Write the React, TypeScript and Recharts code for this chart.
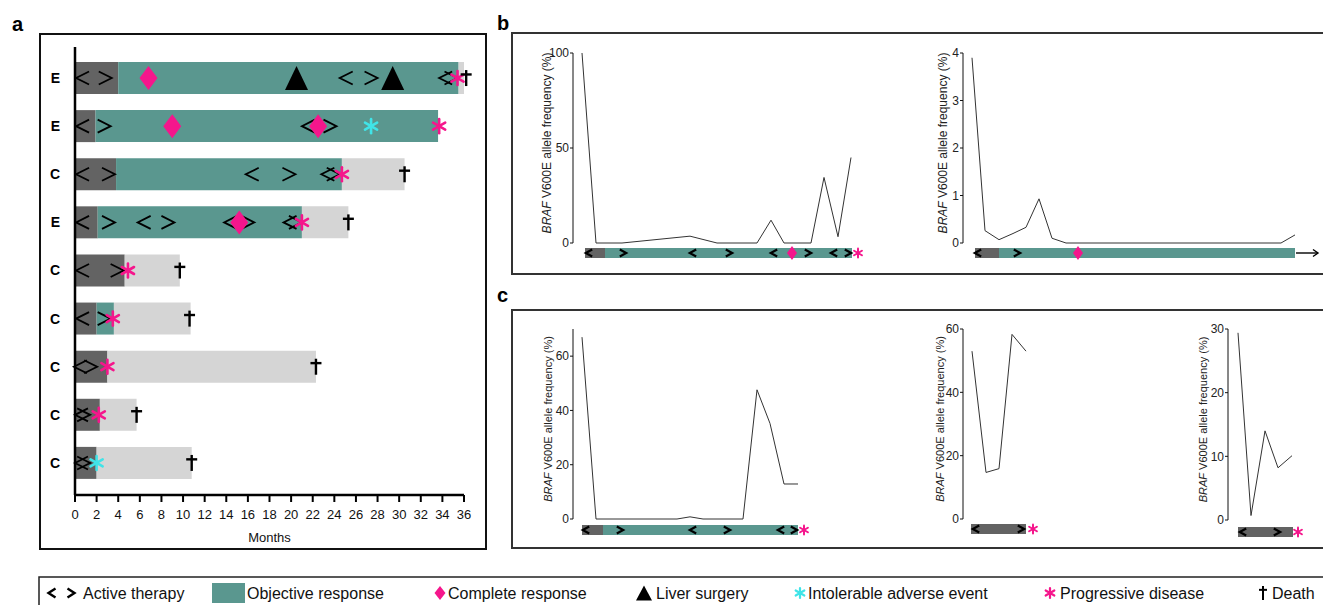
import React from "react";
import { BarChart, Bar, ComposedChart, LineChart, Line, XAxis, YAxis, ReferenceDot } from "recharts";

const FONT = "'Liberation Sans', Arial, Helvetica, sans-serif";
const TEAL = "#5a978f";
const DARK = "#636363";
const LIGHT = "#d5d5d5";
const PINK = "#f5168c";
const CYAN = "#40e4e8";

// ---- panel a: swimmer plot (months)
const patients = ["P1", "P2", "P3", "P4", "P5", "P6", "P7", "P8", "P9"];
const arms = ["E", "E", "C", "E", "C", "C", "C", "C", "C"];
const therapyEnd = [4.0, 1.9, 3.8, 2.1, 4.6, 2.0, 3.0, 2.3, 2.0];
const responseEnd = [35.5, 33.6, 24.7, 21.0, 4.6, 3.6, 3.0, 2.3, 2.0];
const followEnd = [36.0, 33.6, 30.5, 25.3, 9.7, 10.7, 22.3, 5.7, 10.8];
const monthTicks = [0, 2, 4, 6, 8, 10, 12, 14, 16, 18, 20, 22, 24, 26, 28, 30, 32, 34, 36];

type Ev = [string, number];
const therapyStarts: Ev[] = [
  ["P1", 0.7], ["P1", 25.1], ["P1", 34.3], ["P2", 0.7], ["P2", 21.6], ["P3", 0.7], ["P3", 16.4], ["P3", 23.4],
  ["P4", 0.7], ["P4", 6.4], ["P4", 14.4], ["P4", 19.9], ["P5", 0.7], ["P6", 0.7], ["P7", 0.5], ["P8", 0.6], ["P9", 0.6],
];
const therapyStops: Ev[] = [
  ["P1", 2.8], ["P1", 27.4], ["P1", 34.8], ["P2", 2.7], ["P2", 23.6], ["P3", 3.1], ["P3", 19.8], ["P3", 23.9],
  ["P4", 3.1], ["P4", 8.6], ["P4", 16.0], ["P4", 20.4], ["P5", 3.9], ["P6", 2.7], ["P7", 1.45], ["P8", 0.8], ["P9", 0.8],
];
const completeResponses: Ev[] = [["P1", 6.8], ["P2", 9.0], ["P2", 22.5], ["P4", 15.2]];
const liverSurgeries: Ev[] = [["P1", 20.5], ["P1", 29.4]];
const adverseEvents: Ev[] = [["P2", 27.4], ["P9", 2.0]];
const progressions: Ev[] = [
  ["P1", 35.4], ["P2", 33.7], ["P3", 24.7], ["P4", 21.0], ["P5", 4.9], ["P6", 3.5], ["P7", 3.0], ["P8", 2.2],
];
const deaths: Ev[] = [["P1", 36.2], ["P3", 30.5], ["P4", 25.3], ["P5", 9.7], ["P6", 10.6], ["P7", 22.3], ["P8", 5.7], ["P9", 10.8]];

// ---- panels b, c: BRAF V600E allele frequency
const b1Time = [-0.3, 1.1, 3.7, 10.5, 13.2, 17.2, 18.6, 19.9, 22.6, 23.9, 25.3, 26.6];
const b1Vaf = [100, 0, 0, 3.6, 0, 0, 12, 0, 0, 34.5, 3.3, 45];
const b1Bar = [2.0, 26.7];
const b1Marks: [string, number][] = [
  ["start", 0.4], ["stop", 3.8], ["start", 10.8], ["stop", 14.4], ["start", 18.9], ["cr", 20.7],
  ["stop", 22.3], ["start", 24.9], ["stop", 26.3], ["pd", 27.3],
];

const b2Time = [-0.3, 1.0, 2.4, 3.8, 5.1, 6.4, 7.7, 9.1, 30.6, 32.0];
const b2Vaf = [3.9, 0.26, 0.07, 0.2, 0.33, 0.93, 0.1, 0, 0, 0.17];
const b2Bar = [2.4, 32.0];
const b2Marks: [string, number][] = [["start", 0.3], ["stop", 4.2], ["cr", 10.3], ["arrow", 33.2]];

const c1Time = [0, 1.4, 9.5, 10.8, 12.1, 16.1, 17.5, 18.8, 20.2, 21.6];
const c1Vaf = [67, 0, 0, 0.8, 0, 0, 47.6, 35.2, 12.9, 12.9];
const c1Bar = [2.1, 21.6];
const c1Marks: [string, number][] = [
  ["start", 0.4], ["stop", 3.8], ["start", 11.1], ["stop", 14.5], ["start", 19.9], ["stop", 21.2], ["pd", 22.2],
];

const c2Time = [0.1, 1.5, 2.8, 4.1, 5.5];
const c2Vaf = [53, 14.7, 15.9, 58.3, 53];
const c2Bar = [5.5, 5.5];
const c2Marks: [string, number][] = [["start", 0.5], ["stop", 5.0], ["pd", 6.2]];

const c3Time = [0, 1.3, 2.7, 4.0, 5.4];
const c3Vaf = [29.4, 0.7, 14.0, 8.2, 10.1];
const c3Bar = [5.5, 5.5];
const c3Marks: [string, number][] = [["start", 0.5], ["stop", 3.9], ["pd", 6.0]];

const SIZES: Record<string, any> = {
  big: { cw: 6.5, ch: 6.5, csw: 1.8, dw: 9, dh: 12, tw: 11.5, th: 12, ar: 7, asw: 2.6, gh: 8, gb: 5.5, gsw: 2.4 },
  small: { cw: 3.2, ch: 3.5, csw: 2.2, dw: 5, dh: 7, tw: 6, th: 6, ar: 4.5, asw: 2, gh: 5, gb: 3, gsw: 1.8 },
  legend: { cw: 3.5, ch: 4.5, csw: 2.4, dw: 5.5, dh: 7, tw: 8, th: 7.5, ar: 5, asw: 2.2, gh: 7, gb: 4, gsw: 2 },
};

function Asterisk({ cx, cy, r, sw, color }: any) {
  const a = [90, 30, 150].map((d) => (d * Math.PI) / 180);
  return (
    <g stroke={color} strokeWidth={sw} strokeLinecap="round">
      {a.map((t, i) => (
        <line key={i} x1={cx - r * Math.cos(t)} y1={cy - r * Math.sin(t)} x2={cx + r * Math.cos(t)} y2={cy + r * Math.sin(t)} />
      ))}
    </g>
  );
}

function Glyph({ kind, cx, cy, size }: { kind: string; cx: number; cy: number; size: string }) {
  const s = SIZES[size];
  switch (kind) {
    case "start":
      return <polyline points={`${cx + s.cw},${cy - s.ch} ${cx - s.cw},${cy} ${cx + s.cw},${cy + s.ch}`} fill="none" stroke="#000" strokeWidth={s.csw} />;
    case "stop":
      return <polyline points={`${cx - s.cw},${cy - s.ch} ${cx + s.cw},${cy} ${cx - s.cw},${cy + s.ch}`} fill="none" stroke="#000" strokeWidth={s.csw} />;
    case "cr":
      return <polygon points={`${cx},${cy - s.dh} ${cx + s.dw},${cy} ${cx},${cy + s.dh} ${cx - s.dw},${cy}`} fill={PINK} />;
    case "surgery":
      return <polygon points={`${cx},${cy - s.th} ${cx + s.tw},${cy + s.th} ${cx - s.tw},${cy + s.th}`} fill="#000" />;
    case "ae":
      return <Asterisk cx={cx} cy={cy} r={s.ar} sw={s.asw} color={CYAN} />;
    case "pd":
      return <Asterisk cx={cx} cy={cy} r={s.ar} sw={s.asw} color={PINK} />;
    case "death":
      return (
        <g stroke="#000" strokeWidth={s.gsw}>
          <line x1={cx} y1={cy - s.gh} x2={cx} y2={cy + s.gh} />
          <line x1={cx - s.gb} y1={cy - s.gh * 0.45} x2={cx + s.gb} y2={cy - s.gh * 0.45} />
        </g>
      );
    case "arrow":
      return (
        <g stroke="#000" strokeWidth={1.4} fill="none">
          <line x1={cx - 11} y1={cy} x2={cx + 11} y2={cy} />
          <polyline points={`${cx + 6},${cy - 3.5} ${cx + 11},${cy} ${cx + 6},${cy + 3.5}`} />
        </g>
      );
    default:
      return null;
  }
}

const PX_PER_UNIT = 10;

type Cfg = {
  axisX: number; origin: number; top: number; zero: number; plotRight: number;
  tlTop: number; tlRight: number; labelDist: number; labelSize: number; yMax: number; yTicks: number[];
};

function VafPanel({ cfg, time, vaf, bar, marks }: { cfg: Cfg; time: number[]; vaf: number[]; bar: number[]; marks: [string, number][] }) {
  const toUnit = (px: number) => (px - cfg.origin) / PX_PER_UNIT;
  const data = time.map((t, i) => ({ t, v: vaf[i] }));
  const yw = 44;
  const mTop = 10;
  const mBottom = 10;
  const plotW = cfg.plotRight - cfg.axisX;
  const tl = [{ name: "tl", therapy: bar[0], response: bar[1] - bar[0] }];
  return (
    <>
      <div style={{ position: "absolute", left: cfg.axisX - yw, top: cfg.top - mTop }}>
        <LineChart width={yw + plotW} height={cfg.zero - cfg.top + mTop + mBottom} data={data} margin={{ top: mTop, right: 0, bottom: mBottom, left: 0 }}>
          <XAxis dataKey="t" type="number" domain={[toUnit(cfg.axisX), toUnit(cfg.plotRight)]} hide allowDataOverflow />
          <YAxis
            type="number"
            domain={[0, cfg.yMax]}
            ticks={cfg.yTicks}
            interval={0}
            width={yw}
            tickSize={3}
            tickMargin={1}
            axisLine={{ stroke: "#111" }}
            tickLine={{ stroke: "#111" }}
            tick={{ fontSize: 12, fill: "#222", fontFamily: FONT }}
            label={{
              content: (p: any) => {
                const vb = p.viewBox;
                const x = vb.x + vb.width - cfg.labelDist;
                const y = vb.y + vb.height / 2 - 5;
                return (
                  <text x={x} y={y} transform={`rotate(-90, ${x}, ${y})`} textAnchor="middle" dominantBaseline="central" fontSize={cfg.labelSize} fontFamily={FONT} fill="#222">
                    <tspan fontStyle="italic">BRAF</tspan> V600E allele frequency (%)
                  </text>
                );
              },
            }}
          />
          <Line dataKey="v" type="linear" stroke="#333" strokeWidth={1} dot={false} isAnimationActive={false} />
        </LineChart>
      </div>
      <div style={{ position: "absolute", left: cfg.axisX, top: cfg.tlTop - 5 }}>
        <BarChart layout="vertical" width={cfg.tlRight - cfg.axisX} height={20} data={tl} margin={{ top: 0, right: 0, bottom: 0, left: 0 }}>
          <XAxis type="number" domain={[toUnit(cfg.axisX), toUnit(cfg.tlRight)]} hide allowDataOverflow />
          <YAxis type="category" dataKey="name" hide />
          <Bar dataKey="therapy" stackId="s" fill={DARK} barSize={10} isAnimationActive={false} />
          <Bar dataKey="response" stackId="s" fill={TEAL} barSize={10} isAnimationActive={false} />
          {marks.map(([kind, t], i) => (
            <ReferenceDot key={i} x={t} y="tl" r={3} ifOverflow="visible" shape={(p: any) => <Glyph kind={kind} cx={p.cx} cy={p.cy} size="small" />} />
          ))}
        </BarChart>
      </div>
    </>
  );
}

const b1Cfg: Cfg = { axisX: 573, origin: 585, top: 53, zero: 243, plotRight: 860, tlTop: 248, tlRight: 880, labelDist: 26, labelSize: 12, yMax: 100, yTicks: [0, 50, 100] };
const b2Cfg: Cfg = { axisX: 963, origin: 975, top: 53, zero: 243, plotRight: 1300, tlTop: 248, tlRight: 1323, labelDist: 20, labelSize: 12, yMax: 4, yTicks: [0, 1, 2, 3, 4] };
const c1Cfg: Cfg = { axisX: 573, origin: 582, top: 329, zero: 519, plotRight: 805, tlTop: 525, tlRight: 830, labelDist: 25, labelSize: 11, yMax: 70, yTicks: [0, 20, 40, 60] };
const c2Cfg: Cfg = { axisX: 963, origin: 971, top: 329, zero: 519, plotRight: 1030, tlTop: 524, tlRight: 1060, labelDist: 23, labelSize: 11, yMax: 60, yTicks: [0, 20, 40, 60] };
const c3Cfg: Cfg = { axisX: 1228, origin: 1238, top: 329, zero: 520, plotRight: 1300, tlTop: 527, tlRight: 1323, labelDist: 25, labelSize: 11, yMax: 30, yTicks: [0, 10, 20, 30] };

function SwimmerPanel() {
  const rows = patients.map((id, i) => ({
    id,
    therapy: therapyEnd[i],
    response: responseEnd[i] - therapyEnd[i],
    follow: followEnd[i] - responseEnd[i],
  }));
  const groups: [string, Ev[]][] = [
    ["start", therapyStarts], ["stop", therapyStops], ["cr", completeResponses], ["surgery", liverSurgeries],
    ["ae", adverseEvents], ["pd", progressions], ["death", deaths],
  ];
  return (
    <div style={{ position: "absolute", left: 40, top: 34 }}>
      <ComposedChart layout="vertical" width={446} height={511} data={rows} margin={{ top: 13, right: 22, bottom: 0, left: 0 }}>
        <XAxis
          type="number"
          domain={[0, 36]}
          ticks={monthTicks}
          interval={0}
          height={50}
          tickSize={7}
          tickMargin={8}
          axisLine={{ stroke: "#000", strokeWidth: 2.5 }}
          tickLine={{ stroke: "#000", strokeWidth: 2 }}
          tick={{ fontSize: 13, fill: "#111", fontFamily: FONT }}
          label={{ value: "Months", position: "insideBottom", offset: 3, fontSize: 13, fill: "#111", fontFamily: FONT }}
        />
        <YAxis
          type="category"
          dataKey="id"
          width={35}
          padding={{ top: 7, bottom: 8 }}
          axisLine={{ stroke: "#000", strokeWidth: 2.5 }}
          tickLine={false}
          tickSize={6}
          tickMargin={9}
          tickFormatter={(id: string) => arms[patients.indexOf(id)]}
          tick={{ fontSize: 14, fontWeight: "bold", fill: "#000", fontFamily: FONT }}
        />
        <Bar dataKey="therapy" stackId="a" fill={DARK} barSize={32} isAnimationActive={false} />
        <Bar dataKey="response" stackId="a" fill={TEAL} barSize={32} isAnimationActive={false} />
        <Bar dataKey="follow" stackId="a" fill={LIGHT} barSize={32} isAnimationActive={false} />
        {groups.flatMap(([kind, evs]) =>
          evs.map(([id, m], i) => (
            <ReferenceDot key={`${kind}-${i}`} x={m} y={id} r={4} ifOverflow="visible" shape={(p: any) => <Glyph kind={kind} cx={p.cx} cy={p.cy} size="big" />} />
          ))
        )}
      </ComposedChart>
    </div>
  );
}

const legendItems: [string, string, number, number][] = [
  ["therapy", "Active therapy", 62, 83],
  ["response", "Objective response", 228, 247],
  ["cr", "Complete response", 440, 448],
  ["surgery", "Liver surgery", 644, 656],
  ["ae", "Intolerable adverse event", 800, 808],
  ["pd", "Progressive disease", 1050, 1060],
  ["death", "Death", 1263, 1272],
];

function Frame() {
  const ly = 593;
  return (
    <svg width={1323} height={605} style={{ position: "absolute", left: 0, top: 0 }}>
      <rect x={40} y={34} width={446} height={515} fill="none" stroke="#111" strokeWidth={2} />
      <rect x={512} y={33} width={820} height={241} fill="none" stroke="#333" strokeWidth={2} />
      <rect x={512} y={310} width={820} height={238} fill="none" stroke="#333" strokeWidth={2} />
      <rect x={39} y={577} width={1295} height={40} fill="none" stroke="#222" strokeWidth={1.5} />
      <text x={12} y={31} fontSize={20} fontWeight="bold" fontFamily={FONT}>a</text>
      <text x={497} y={30} fontSize={20} fontWeight="bold" fontFamily={FONT}>b</text>
      <text x={497} y={302} fontSize={20} fontWeight="bold" fontFamily={FONT}>c</text>
      {legendItems.map(([kind, label, gx, tx]) => (
        <g key={kind}>
          {kind === "therapy" ? (
            <>
              <Glyph kind="start" cx={52} cy={ly} size="legend" />
              <Glyph kind="stop" cx={71} cy={ly} size="legend" />
            </>
          ) : kind === "response" ? (
            <rect x={212} y={583} width={33} height={20} fill={TEAL} />
          ) : (
            <Glyph kind={kind} cx={gx} cy={ly} size="legend" />
          )}
          <text x={tx} y={ly + 6} fontSize={16} fontFamily={FONT} fill="#111">{label}</text>
        </g>
      ))}
    </svg>
  );
}

export default function App() {
  return (
    <div style={{ position: "absolute", left: 0, top: 0, width: 1323, height: 605, background: "#fff", fontFamily: FONT, overflow: "hidden" }}>
      <Frame />
      <SwimmerPanel />
      <VafPanel cfg={b1Cfg} time={b1Time} vaf={b1Vaf} bar={b1Bar} marks={b1Marks} />
      <VafPanel cfg={b2Cfg} time={b2Time} vaf={b2Vaf} bar={b2Bar} marks={b2Marks} />
      <VafPanel cfg={c1Cfg} time={c1Time} vaf={c1Vaf} bar={c1Bar} marks={c1Marks} />
      <VafPanel cfg={c2Cfg} time={c2Time} vaf={c2Vaf} bar={c2Bar} marks={c2Marks} />
      <VafPanel cfg={c3Cfg} time={c3Time} vaf={c3Vaf} bar={c3Bar} marks={c3Marks} />
    </div>
  );
}
